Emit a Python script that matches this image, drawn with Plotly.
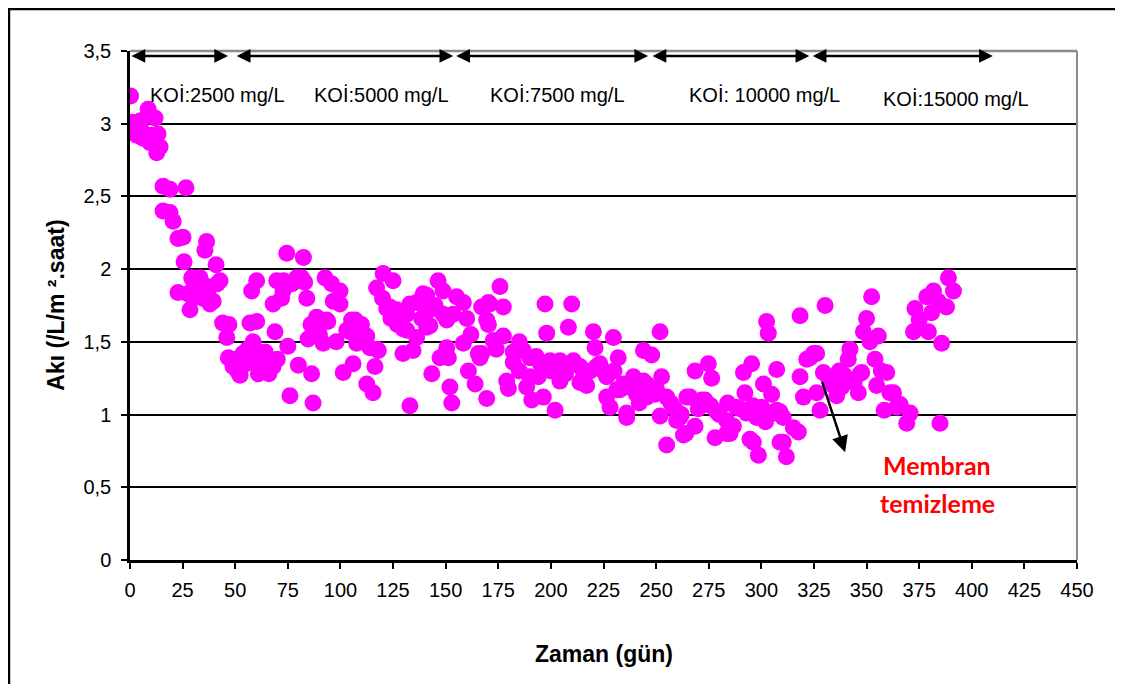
import plotly.graph_objects as go

# ---- data (day, flux) ----
gun = [
    0.3, 0.8, 2, 3.2, 4.8, 5, 6.2, 7, 8.6, 9.5, 10.3, 11.9, 12.7, 13.3, 14.3,
    15.7, 19.0, 26.6, 15.7, 19.0, 20.5, 22.8, 25.2, 36.4, 35.6, 25.7, 40.9,
    29.3, 33.3, 42.8, 22.8, 27.6, 28.5, 31.7, 38.0, 36.4, 30.5, 34.5, 39.5, 41.5, 37,
    44, 47, 46.0, 46.7, 49.0, 52.3, 53.7, 57.0, 60.2, 58.5, 64.2, 62.6, 68.0, 64.9,
    68.9, 75.0, 76.0, 80.0, 86.3, 87.0, 84.6, 89.5, 91.8, 94.0, 60.2, 57.8, 69.7,
    74.5, 82.4, 79.2, 81.6, 84.0, 68.0, 72.7, 92.7, 95.8, 99.8, 96.6, 88.7, 93.5,
    99.8, 50.5, 51, 55, 56, 59, 61, 66, 70, 72, 77, 73, 83, 98, 90, 86,
    101.3, 106.0, 104.5, 107.0, 107.7, 112.5, 115.5, 116.4, 117.2, 112.5, 122.0,
    129.7, 129.7, 134.5, 133.0, 143.4, 147.3, 150.5, 152.0, 152.9, 138.6, 142.5,
    150.5, 120.3, 125.0, 117.2, 126.7, 131.5, 136.2, 139.3, 146.4, 148.8, 155.2,
    148.8, 142.6, 153.5, 103.0, 109.3, 108.5, 114.0, 118.0, 131.5, 137.8, 141.0,
    158.4, 160.0, 141.0, 136.2, 105.3, 110, 158.4, 160.8, 164.0, 165.5, 151.3,
    123.5, 128.3, 145, 133, 127, 120, 124,
    167.1, 170.3, 169.5, 175.8, 171.0, 177.4, 170.3, 177.4, 172.6, 167.1, 166.3,
    182.1, 186.9, 182.1, 179.0, 179.8, 169.5, 190.0, 194.0, 188.5, 190.9, 196.4,
    202.0, 197.2, 209.9, 198.0, 208.3, 220.2, 229.7, 221.0, 232.0, 244.0, 247.9,
    199.6, 204.3, 210.7, 213.8, 204.3, 213.8, 218.6, 223.3, 224.9, 226.5, 228.1,
    236.0, 234.4, 239.2, 244.0, 231.3, 240.7, 245.5, 190, 205.1, 215.4, 221.7,
    226.5, 232.8, 236.0, 245.5, 185, 195, 200, 207, 217, 230, 237, 242, 174, 162,
    185, 193,
    251.9, 250.3, 255.0, 258.3, 252.6, 249.5, 266.1, 273.2, 251.9, 259.8, 268.5,
    264.1, 278.8, 283.5, 278.0, 285.1, 289.9, 297.8, 294.6, 298.6, 310.4, 307.3,
    315.2, 310.4, 311.9, 255.0, 263, 268.5, 274.8, 276.4, 291.5, 295.4, 307.3,
    301.0, 292.2, 304.9, 302.5, 303.3, 261.3, 264.6, 271.7, 286.7, 288.3, 293.0,
    300.2, 306.5, 283.5, 296.2, 308.9, 318.4, 318.4, 323.2, 326.3, 329.5, 320.0,
    326.3, 327.9, 317.6, 308.9, 280, 276, 270, 260, 257, 262, 284, 296, 302,
    330.3, 334.2, 324.7, 321.6, 342.1, 341.3, 354.0, 359.6, 346.9, 354.8, 338.2,
    335.8, 346.1, 362.8, 358.4, 366.0, 370.7, 369.1, 384.9, 352.4, 350.0, 348.5,
    355.6, 351.6, 388.9, 391.3, 381.8, 378.6, 373.0, 388.0, 380.9, 372.3, 379.4,
    385.7, 339.4, 347.7, 361.1, 364.3, 332, 344, 337, 357, 384, 375,
]
aki = [
    3.19, 3.01, 2.95, 2.92, 3.00, 3.02, 2.90, 2.93, 3.10, 2.87, 2.92, 3.04, 2.80, 2.93, 2.84,
    2.57, 2.55, 2.56, 2.40, 2.39, 2.33, 2.21, 2.22, 2.19, 2.13, 2.05, 2.03,
    1.94, 1.94, 1.92, 1.84, 1.83, 1.72, 1.81, 1.76, 1.88, 1.90, 1.80, 1.78, 1.90, 1.85,
    1.63, 1.62, 1.53, 1.39, 1.33, 1.27, 1.42, 1.63, 1.64, 1.50, 1.43, 1.32, 1.33, 1.36,
    1.57, 1.47, 1.13, 1.34, 1.28, 1.08, 1.52, 1.65, 1.49, 1.64, 1.92, 1.85, 1.92,
    2.11, 2.08, 1.94, 1.94, 1.80, 1.76, 1.85, 1.94, 1.90, 1.85, 1.78, 1.67, 1.65,
    1.76, 1.38, 1.30, 1.35, 1.45, 1.40, 1.28, 1.28, 1.38, 1.80, 1.90, 1.92, 1.91, 1.50, 1.55, 1.62,
    1.29, 1.35, 1.57, 1.65, 1.49, 1.21, 1.15, 1.33, 1.45, 1.54, 1.73,
    1.59, 1.42, 1.44, 1.06, 1.28, 1.39, 1.46, 1.19, 1.08, 1.66, 1.61,
    1.65, 1.97, 1.92, 1.87, 1.72, 1.69, 1.77, 1.83, 1.92, 1.85, 1.81,
    1.69, 1.72, 1.69, 1.58, 1.58, 1.50, 1.46, 1.44, 1.58, 1.77, 1.82,
    1.77, 1.66, 1.60, 1.53, 1.65, 1.62, 1.49, 1.30, 1.21, 1.42, 1.39,
    1.74, 1.70, 1.75, 1.76, 1.62, 1.80, 1.66,
    1.74, 1.77, 1.65, 1.88, 1.76, 1.74, 1.62, 1.54, 1.51, 1.42, 1.39,
    1.43, 1.44, 1.36, 1.23, 1.18, 1.11, 1.26, 1.26, 1.19, 1.10, 1.12,
    1.03, 1.76, 1.76, 1.56, 1.60, 1.57, 1.53, 1.46, 1.39, 1.44, 1.41,
    1.37, 1.37, 1.37, 1.33, 1.23, 1.22, 1.30, 1.35, 1.30, 1.12, 1.05,
    1.01, 1.21, 1.26, 1.23, 1.17, 1.14, 1.12, 1.39, 1.33, 1.26, 1.33,
    1.26, 1.17, 0.98, 1.21, 1.30, 1.35, 1.30, 1.28, 1.20, 1.30, 1.19, 1.08, 1.45, 1.55,
    1.50, 1.40,
    1.57, 1.17, 1.12, 1.05, 1.26, 1.14, 1.12, 1.10, 0.99, 0.96, 0.92,
    0.87, 1.02, 0.96, 0.84, 0.87, 1.04, 0.98, 0.83, 0.72, 0.98, 1.03,
    0.91, 0.81, 0.71, 0.79, 0.86, 1.30, 1.35, 1.25, 1.29, 1.35, 1.31,
    1.21, 1.15, 1.14, 1.64, 1.56, 0.98, 1.12, 1.10, 0.92, 1.05, 1.01,
    1.05, 1.01, 0.87, 0.81, 0.81, 1.68, 1.26, 1.39, 1.42, 1.29, 1.12,
    1.15, 1.03, 0.88, 1.02, 1.00, 1.06, 1.04, 1.02, 1.08, 1.00, 1.08, 1.06, 0.95,
    1.75, 1.20, 1.42, 1.38, 1.45, 1.38, 1.38, 1.29, 1.28, 1.20, 1.19,
    1.13, 1.15, 1.15, 1.03, 1.07, 1.01, 0.94, 0.94, 1.81, 1.66, 1.57,
    1.54, 1.50, 1.94, 1.85, 1.85, 1.81, 1.73, 1.74, 1.70, 1.57, 1.57,
    1.49, 1.27, 1.29, 1.15, 1.05, 1.25, 1.22, 1.30, 1.30, 1.78, 1.65,
]

x_ticks = list(range(0, 451, 25))
y_ticks = [0, 0.5, 1, 1.5, 2, 2.5, 3, 3.5]

# COD phases (top double arrows + labels)
phase_labels = ["KOİ:2500 mg/L", "KOİ:5000 mg/L", "KOİ:7500 mg/L",
                "KOİ: 10000 mg/L", "KOİ:15000 mg/L"]
phase_start = [0, 50, 154.3, 247.6, 323.7]
phase_end = [46.6, 153.6, 246.2, 322.8, 410]
phase_label_x = [41.6, 119.5, 203, 301.5, 392.5]
phase_label_y = [3.20, 3.20, 3.20, 3.20, 3.17]
phase_arrow_y = 3.466

clean_text = ["Membran", "temizleme"]
clean_text_x = [383.5, 383.5]
clean_text_y = [0.655, 0.39]
clean_arrow_from = (328.7, 1.234)
clean_arrow_to = (339.8, 0.741)

fig = go.Figure()
fig.add_trace(go.Scatter(
    x=gun, y=aki, mode="markers",
    marker=dict(color="#FF00FF", size=17, line=dict(width=0)),
    showlegend=False, hoverinfo="x+y",
))

font_main = "Liberation Sans, Arial, sans-serif"

annotations = []
for s, e in zip(phase_start, phase_end):
    annotations.append(dict(
        x=e, y=phase_arrow_y, ax=s, ay=phase_arrow_y,
        xref="x", yref="y", axref="x", ayref="y",
        showarrow=True, arrowhead=2, startarrowhead=2, arrowside="end+start",
        arrowsize=1.1, startarrowsize=1.1, arrowwidth=2.5, arrowcolor="black", text="",
    ))
for t, lx, ly in zip(phase_labels, phase_label_x, phase_label_y):
    annotations.append(dict(
        x=lx, y=ly, xref="x", yref="y", text=t, showarrow=False,
        font=dict(family=font_main, size=20, color="black"),
    ))
annotations.append(dict(
    x=clean_arrow_to[0], y=clean_arrow_to[1], ax=clean_arrow_from[0], ay=clean_arrow_from[1],
    xref="x", yref="y", axref="x", ayref="y", text="",
    showarrow=True, arrowhead=2, arrowsize=1.3, arrowwidth=2.5, arrowcolor="black",
))
for t, lx, ly in zip(clean_text, clean_text_x, clean_text_y):
    annotations.append(dict(
        x=lx, y=ly, xref="x", yref="y", text="<b>" + t + "</b>", showarrow=False,
        font=dict(family="Lato, Open Sans, sans-serif", size=25, color="#FF0000"),
    ))
# axis titles
annotations.append(dict(
    x=0.5, y=-0.185, xref="paper", yref="paper", text="<b>Zaman (gün)</b>",
    showarrow=False, yanchor="middle",
    font=dict(family=font_main, size=23, color="black"),
))
annotations.append(dict(
    x=-0.079, y=0.5, xref="paper", yref="paper", text="<b>Akı (/L/m ².saat)</b>",
    showarrow=False, textangle=-90, xanchor="center",
    font=dict(family=font_main, size=23, color="black"),
))

shapes = [
    # outer frame
    dict(type="rect", xref="paper", yref="paper",
         x0=-0.1278, x1=1.0422, y0=-0.3, y1=1.0825,
         line=dict(color="black", width=2.5), layer="below"),
    # plot area top and right border (gray)
    dict(type="line", xref="paper", yref="paper", x0=0, x1=1, y0=1, y1=1,
         line=dict(color="#8c8c8c", width=2.5), layer="above"),
    dict(type="line", xref="paper", yref="paper", x0=1, x1=1, y0=0, y1=1,
         line=dict(color="#8c8c8c", width=2), layer="above"),
]

fig.update_layout(
    width=1115, height=676,
    margin=dict(l=122, r=46, t=43, b=124),
    paper_bgcolor="white", plot_bgcolor="white",
    separators=",.",
    font=dict(family=font_main, size=20, color="black"),
    annotations=annotations, shapes=shapes,
    xaxis=dict(
        range=[0, 450], tickvals=x_ticks, ticks="outside", ticklen=6,
        tickwidth=1.5, tickcolor="black", showgrid=False, zeroline=False,
        showline=True, linecolor="black", linewidth=2.5,
        tickfont=dict(size=20, family=font_main), ticklabelstandoff=4,
    ),
    yaxis=dict(
        range=[0, 3.5], tickvals=y_ticks, ticks="outside", ticklen=6,
        tickwidth=1.5, tickcolor="black", showgrid=True, gridcolor="black",
        gridwidth=2, zeroline=False, showline=True, linecolor="black",
        linewidth=2.5, tickfont=dict(size=20, family=font_main),
        ticklabelstandoff=6,
    ),
)

fig.write_html("out.html")
